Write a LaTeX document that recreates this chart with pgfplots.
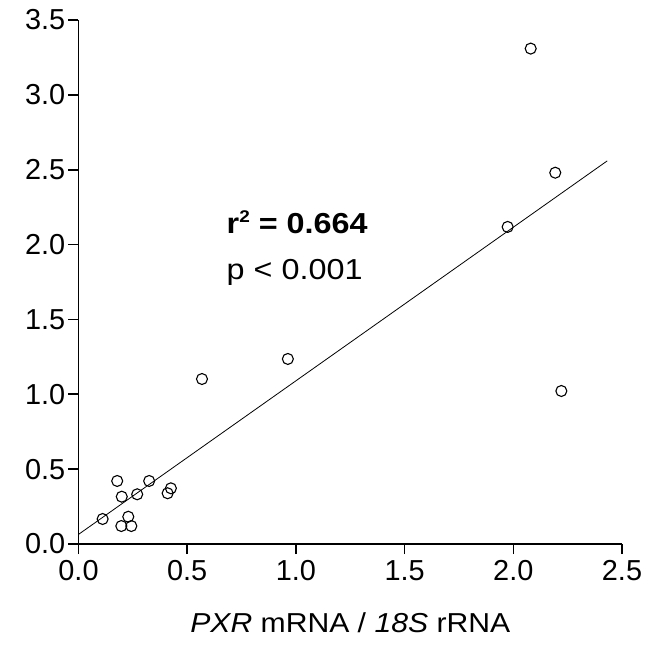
\documentclass[border=0pt]{standalone}
\usepackage{pgfplots}
\pgfplotsset{compat=1.18}
\usepackage{fontspec}
\setmainfont{Liberation Sans}
\newfontfamily\wideannot[FakeStretch=1.12]{Liberation Sans}
\newfontfamily\widelabel[FakeStretch=1.1]{Liberation Sans}
\begin{document}
\begin{tikzpicture}
\useasboundingbox (-78.5bp,-101bp) rectangle (579.5bp,544bp);
\begin{axis}[
  at={(0,0)}, anchor=origin,
  scale only axis,
  width=543.5bp, height=524bp,
  xmin=0, xmax=2.5, ymin=0, ymax=3.5,
  axis lines*=left,
  axis line style={line width=1.6bp},
  every tick/.style={black, line width=1.6bp},
  tick align=outside,
  major tick length=10bp,
  xtick={0,0.5,...,2.5}, ytick={0,0.5,...,3.5},
  minor tick num=0,
  /pgf/number format/assume math mode=true,
  /pgf/number format/fixed, /pgf/number format/fixed zerofill,
  /pgf/number format/precision=1,
  tick label style={font=\fontsize{29}{30}\selectfont},
  xticklabel style={inner sep=2bp, yshift=-4bp},
  yticklabel style={inner sep=3bp},
  xlabel={\textit{PXR} mRNA / \textit{18S} rRNA},
  xlabel style={at={(axis description cs:0.5,0)}, anchor=base, yshift=-88.7bp, font=\widelabel\fontsize{27.5}{30}\selectfont},
  clip=false,
]
\addplot[black, line width=0.8bp] coordinates {(0,0.064) (2.432,2.559)};
\addplot[only marks, mark=o, mark size=5.5bp, mark options={black, line width=1.1bp, fill=white}] coordinates {
(0.111,0.167)
(0.178,0.421)
(0.199,0.316)
(0.197,0.120)
(0.229,0.182)
(0.243,0.120)
(0.270,0.332)
(0.325,0.421)
(0.410,0.339)
(0.425,0.372)
(0.568,1.102)
(0.963,1.236)
(1.974,2.118)
(2.080,3.309)
(2.193,2.480)
(2.221,1.022)
};
\node[anchor=base west, inner sep=0pt, font=\wideannot\fontsize{29}{30}\selectfont\bfseries] at (axis cs:0.681,2.075) {r\raisebox{10.5bp}{\wideannot\fontsize{17}{17}\selectfont\bfseries 2} = 0.664};
\node[anchor=base west, inner sep=0pt, font=\wideannot\fontsize{29}{30}\selectfont] at (axis cs:0.681,1.764) {p < 0.001};
\end{axis}
\end{tikzpicture}
\end{document}
